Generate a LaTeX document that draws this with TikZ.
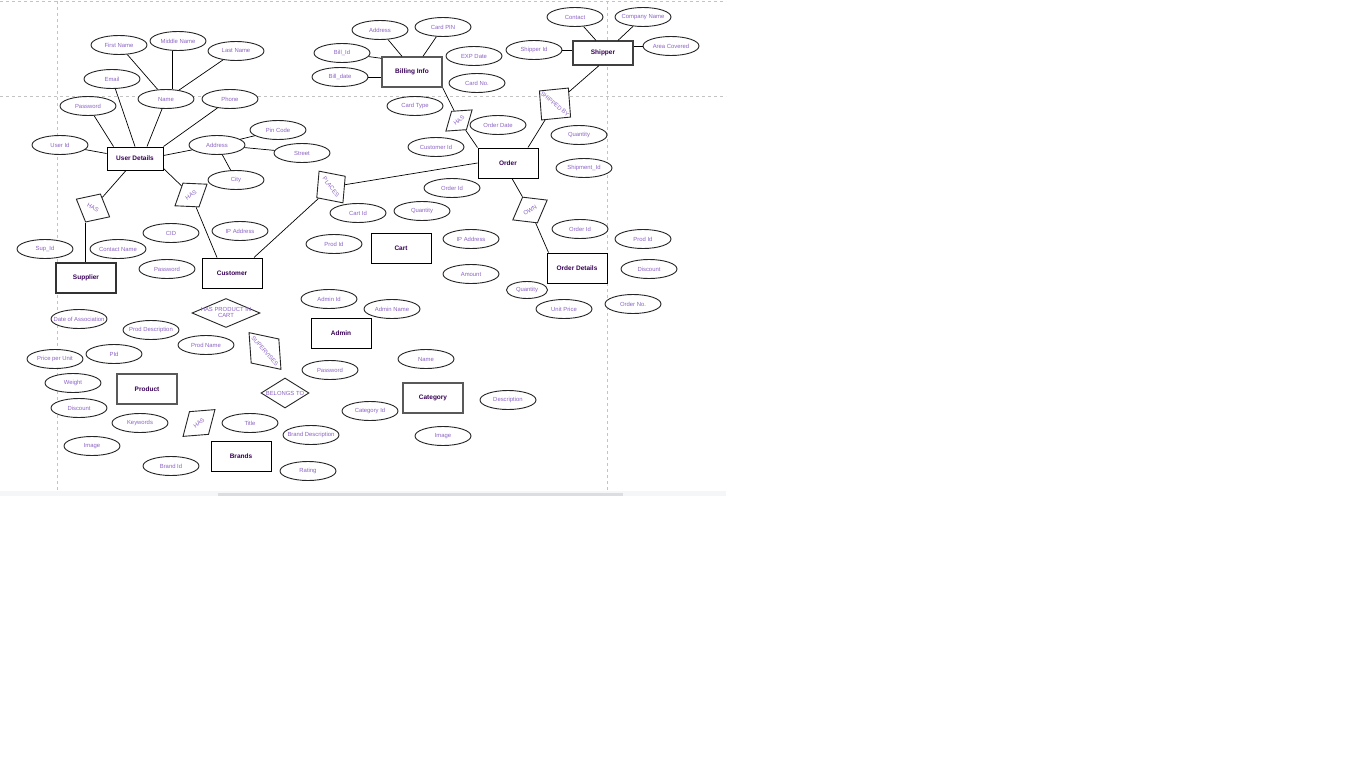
\documentclass[tikz,border=0pt]{standalone}
\usepackage{fontspec}
\setmainfont{Liberation Sans}
\usetikzlibrary{shapes.geometric}
\definecolor{attrc}{RGB}{140,100,195}
\definecolor{entc}{RGB}{55,0,85}
\definecolor{dashc}{RGB}{195,195,195}
\definecolor{bandc}{RGB}{245,246,248}
\definecolor{thumbc}{RGB}{220,221,224}
\newcommand{\myattrfont}{\fontsize{5.9}{7}\selectfont}
\newcommand{\myentfont}{\fontsize{6.5}{7.5}\selectfont\bfseries}
\newcommand{\zb}[1]{\makebox[0pt]{#1}}
\begin{document}
\begin{tikzpicture}[x=1pt,y=-1pt,
  attr/.style={draw=black!85, line width=0.9pt, fill=white, ellipse, minimum width=56pt, minimum height=19pt, inner sep=0pt, font=\myattrfont, text=attrc},
  ent/.style={draw=black, line width=1pt, fill=white, rectangle, minimum width=60pt, minimum height=30pt, inner sep=0pt, font=\myentfont, text=entc},
  entg/.style={ent, draw=black!65, line width=1.4pt},
  rel/.style={draw=black!85, line width=0.9pt, fill=white, diamond, inner sep=0pt, font=\myattrfont, text=attrc},
  link/.style={draw=black, line width=0.7pt},
  guide/.style={draw=dashc, line width=0.6pt, dash pattern=on 3pt off 3pt}]
\fill[white] (0,0) rectangle (1366,768);
\useasboundingbox (0,0) rectangle (1366,768);
% guides
\draw[guide] (0,1) -- (726,1);
\draw[guide] (0,96.5) -- (726,96.5);
\draw[guide] (57.5,1) -- (57.5,490);
\draw[guide] (607,1) -- (607,490);
\fill[bandc] (0,490.5) rectangle (726,496);
\fill[thumbc] (218,492.5) rectangle (623,496);

% entities
\node[ent, minimum width=56pt, minimum height=23pt] (ud) at (135,158.5) {User Details};
\node[entg] (bill) at (412,72) {Billing Info};
\node[ent, draw=black!75, line width=1.2pt, minimum height=24pt] (shipper) at (603,53) {Shipper};
\node[ent] (order) at (508,163) {Order};
\node[ent] (cust) at (232,273) {Customer};
\node[ent, draw=black!80, line width=1.1pt] (sup) at (86,278) {Supplier};
\node[ent] (cart) at (401,248) {Cart};
\node[ent] (od) at (577,268) {Order Details};
\node[ent] (admin) at (341,333) {Admin};
\node[entg] (prod) at (147,389) {Product};
\node[ent] (brands) at (241,456) {Brands};
\node[entg] (cat) at (433,398) {Category};

% relationships
\node[rel, rotate=-28, minimum width=38pt, minimum height=32pt] (hassup) at (93,208) {\zb{HAS}};
\node[rel, rotate=34, minimum width=39pt, minimum height=29pt] (hascust) at (191,195) {\zb{HAS}};
\node[rel, rotate=-53, minimum width=40pt, minimum height=36pt] (places) at (331,187) {\zb{PLACES}};
\node[rel, rotate=39, minimum width=34pt, minimum height=24pt] (hasbill) at (459,120.5) {\zb{HAS}};
\node[rel, rotate=30, minimum width=40pt, minimum height=30pt] (own) at (530,210) {\zb{OWN}};
\node[rel, rotate=-40, minimum width=41pt, minimum height=42pt] (shipby) at (555,104) {\zb{SHIPPED BY}};
\node[rel, rotate=-49, minimum width=49pt, minimum height=37pt] (superv) at (265,351) {\zb{SUPERVISES}};
\node[rel, rotate=40, minimum width=42pt, minimum height=30pt] (hasbr) at (199,423) {\zb{HAS}};
\node[rel, minimum width=68pt, minimum height=29pt] (hpic) at (226,313) {\zb{\begin{tabular}{@{}c@{}}HAS PRODUCT IN\\[-1.5pt]CART\end{tabular}}};
\node[rel, minimum width=48pt, minimum height=30pt] (belongs) at (285,393) {\zb{BELONGS TO}};

% attributes
\node[attr] (fn) at (119,45) {\zb{First Name}};
\node[attr] (mn) at (178,41) {\zb{Middle Name}};
\node[attr] (ln) at (236,51) {\zb{Last Name}};
\node[attr] (em) at (112,79) {\zb{Email}};
\node[attr] (nm) at (166,99) {\zb{Name}};
\node[attr] (ph) at (230,99) {\zb{Phone}};
\node[attr] (pw) at (88,106) {\zb{Password}};
\node[attr] (uid) at (60,145) {\zb{User Id}};
\node[attr] (addr) at (217,145) {\zb{Address}};
\node[attr] (pin) at (278,130) {\zb{Pin Code}};
\node[attr] (st) at (302,153) {\zb{Street}};
\node[attr] (city) at (236,180) {\zb{City}};
\node[attr] (baddr) at (380,30) {\zb{Address}};
\node[attr] (pinc) at (443,27) {\zb{Card PIN}};
\node[attr] (bid) at (342,53) {\zb{Bill\_Id}};
\node[attr] (bdate) at (340,77) {\zb{Bill\_date}};
\node[attr] (exp) at (474,56) {\zb{EXP Date}};
\node[attr] (cno) at (477,83) {\zb{Card No.}};
\node[attr] (ctype) at (415,106) {\zb{Card Type}};
\node[attr] (contact) at (575,17) {\zb{Contact}};
\node[attr] (cname) at (643,17) {\zb{Company Name}};
\node[attr] (shid) at (534,50) {\zb{Shipper Id}};
\node[attr] (area) at (671,46) {\zb{Area Covered}};
\node[attr] (odate) at (498,125) {\zb{Order Date}};
\node[attr] (oqty) at (579,135) {\zb{Quantity}};
\node[attr] (custid) at (436,147) {\zb{Customer Id}};
\node[attr] (shpid) at (584,168) {\zb{Shipment\_Id}};
\node[attr] (oid) at (452,188) {\zb{Order Id}};
\node[attr] (cid) at (171,233) {\zb{CID}};
\node[attr] (cip) at (240,231) {\zb{IP Address}};
\node[attr] (supid) at (45,249) {\zb{Sup\_Id}};
\node[attr] (cnm) at (118,249) {\zb{Contact Name}};
\node[attr] (cpw) at (167,269) {\zb{Password}};
\node[attr] (doa) at (79,319) {\zb{Date of Association}};
\node[attr] (pdesc) at (151,330) {\zb{Prod Description}};
\node[attr] (cartid) at (358,213) {\zb{Cart Id}};
\node[attr] (cqty) at (422,211) {\zb{Quantity}};
\node[attr] (cpid) at (334,244) {\zb{Prod Id}};
\node[attr] (caip) at (471,239) {\zb{IP Address}};
\node[attr] (amt) at (471,274) {\zb{Amount}};
\node[attr] (odid) at (580,229) {\zb{Order Id}};
\node[attr] (odpid) at (643,239) {\zb{Prod Id}};
\node[attr] (oddisc) at (649,269) {\zb{Discount}};
\node[attr, minimum width=41pt, minimum height=17pt] (odqty) at (527,290) {\zb{Quantity}};
\node[attr] (uprice) at (564,309) {\zb{Unit Price}};
\node[attr] (ono) at (633,304) {\zb{Order No.}};
\node[attr] (aid) at (329,299) {\zb{Admin Id}};
\node[attr] (aname) at (392,309) {\zb{Admin Name}};
\node[attr] (pname) at (206,345) {\zb{Prod Name}};
\node[attr] (ppu) at (55,359) {\zb{Price per Unit}};
\node[attr] (pid) at (114,354) {\zb{PId}};
\node[attr] (wt) at (73,383) {\zb{Weight}};
\node[attr] (pdisc) at (79,408) {\zb{Discount}};
\node[attr] (kw) at (140,423) {\zb{Keywords}};
\node[attr] (pimg) at (92,446) {\zb{Image}};
\node[attr] (brid) at (171,466) {\zb{Brand Id}};
\node[attr] (title) at (250,423) {\zb{Title}};
\node[attr] (bdesc) at (311,435) {\zb{Brand Description}};
\node[attr] (rating) at (308,471) {\zb{Rating}};
\node[attr] (apw) at (330,370) {\zb{Password}};
\node[attr] (catn) at (426,359) {\zb{Name}};
\node[attr] (catid) at (370,411) {\zb{Category Id}};
\node[attr] (catdesc) at (508,400) {\zb{Description}};
\node[attr] (catimg) at (443,436) {\zb{Image}};

% connectors
\draw[link] (fn) -- (nm);
\draw[link] ([xshift=-6pt]mn.south) -- ([xshift=6pt]nm.north);
\draw[link] (ln) -- (nm);
\draw[link] (em) -- (ud.north);
\draw[link] (nm) -- ([xshift=12pt]ud.north);
\draw[link] (ph) -- (ud.north east);
\draw[link] (pw) -- ([xshift=7pt]ud.north west);
\draw[link] (uid) -- ([yshift=5pt]ud.west);
\draw[link] (addr) -- ([yshift=3pt]ud.east);
\draw[link] (addr) -- (pin);
\draw[link] (addr) -- (st);
\draw[link] (addr) -- (city);
\draw[link] ([xshift=-9pt]ud.south) -- (hassup);
\draw[link] (hassup.south) -- (hassup.south |- sup.north);
\draw[link] ([yshift=2pt]ud.south east) -- (hascust);
\draw[link] (hascust) -- ([xshift=-15pt]cust.north);
\draw[link] (order.west) -- (places);
\draw[link] (places) -- ([xshift=22pt]cust.north);
\draw[link] (baddr) -- ([xshift=-10pt]bill.north);
\draw[link] (pinc) -- ([xshift=11pt]bill.north);
\draw[link] (bid) -- ([yshift=-2pt]bill.north west);
\draw[link] (bdate) -- ([yshift=-5pt]bill.west);
\draw[link] (bill.south east) -- (hasbill);
\draw[link] (hasbill) -- (order.north west);
\draw[link] ([xshift=20pt]order.north) -- (shipby);
\draw[link] (shipby) -- ([xshift=-4pt]shipper.south);
\draw[link] (contact) -- ([xshift=-7pt]shipper.north);
\draw[link] (cname) -- ([xshift=15pt]shipper.north);
\draw[link] (shid) -- ([yshift=3pt]shipper.west);
\draw[link] (area) -- ([yshift=7pt]shipper.east);
\draw[link] ([xshift=4pt]order.south) -- (own);
\draw[link] (own) -- ([xshift=2pt]od.north west);
\end{tikzpicture}
\end{document}
